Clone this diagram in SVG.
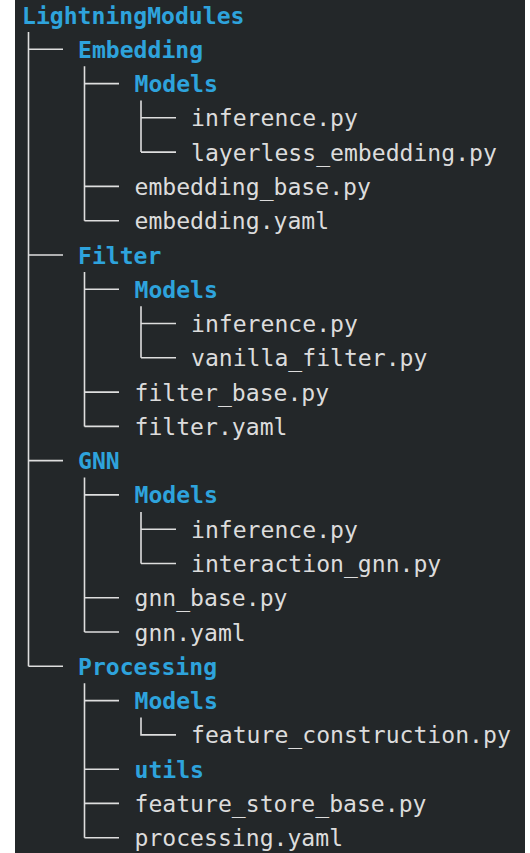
<svg xmlns="http://www.w3.org/2000/svg" width="530" height="853" viewBox="0 0 530 853">
<style>
.t{font-family:"DejaVu Sans Mono","Liberation Mono",monospace;font-size:23.1px;fill:#dcdcdc}
.d{font-weight:bold;fill:#2ea3dc}
.c{fill:none;stroke:#dedede;stroke-width:1.6}
</style>
<rect x="0" y="0" width="530" height="853" fill="#ffffff"/>
<rect x="15" y="0" width="510" height="853" fill="#232729"/>
<g id="connectors">
<path class="c" d="M28.5 32V666.3M28.5 49.3H63M28.5 255H63M28.5 460.6H63M28.5 666.3H63"/>
<path class="c" d="M84.5 66.3V220.7M84.5 83.6H119M84.5 186.4H119M84.5 220.7H119"/>
<path class="c" d="M141 100.6V152.1M141 117.8H176M141 152.1H176"/>
<path class="c" d="M84.5 272V426.4M84.5 289.2H119M84.5 392.1H119M84.5 426.4H119"/>
<path class="c" d="M141 306.2V357.8M141 323.5H176M141 357.8H176"/>
<path class="c" d="M84.5 477.6V632M84.5 494.9H119M84.5 597.8H119M84.5 632H119"/>
<path class="c" d="M141 511.9V563.5M141 529.2H176M141 563.5H176"/>
<path class="c" d="M84.5 683.3V837.7M84.5 700.6H119M84.5 769.2H119M84.5 803.4H119M84.5 837.7H119"/>
<path class="c" d="M141 717.6V734.9H176"/>
</g>
<g id="n-root"><text class="t d" x="22" y="23.5">LightningModules</text></g>
<g id="n-embedding"><text class="t d" x="78" y="57.8">Embedding</text></g>
<g id="n-emb-models"><text class="t d" x="134.5" y="92.1">Models</text></g>
<g id="n-emb-inference"><text class="t" x="191" y="126.3">inference.py</text></g>
<g id="n-emb-layerless"><text class="t" x="191" y="160.6">layerless_embedding.py</text></g>
<g id="n-emb-base"><text class="t" x="134.5" y="194.9">embedding_base.py</text></g>
<g id="n-emb-yaml"><text class="t" x="134.5" y="229.2">embedding.yaml</text></g>
<g id="n-filter"><text class="t d" x="78" y="263.5">Filter</text></g>
<g id="n-fil-models"><text class="t d" x="134.5" y="297.7">Models</text></g>
<g id="n-fil-inference"><text class="t" x="191" y="332">inference.py</text></g>
<g id="n-fil-vanilla"><text class="t" x="191" y="366.3">vanilla_filter.py</text></g>
<g id="n-fil-base"><text class="t" x="134.5" y="400.6">filter_base.py</text></g>
<g id="n-fil-yaml"><text class="t" x="134.5" y="434.9">filter.yaml</text></g>
<g id="n-gnn"><text class="t d" x="78" y="469.1">GNN</text></g>
<g id="n-gnn-models"><text class="t d" x="134.5" y="503.4">Models</text></g>
<g id="n-gnn-inference"><text class="t" x="191" y="537.7">inference.py</text></g>
<g id="n-gnn-interaction"><text class="t" x="191" y="572">interaction_gnn.py</text></g>
<g id="n-gnn-base"><text class="t" x="134.5" y="606.3">gnn_base.py</text></g>
<g id="n-gnn-yaml"><text class="t" x="134.5" y="640.5">gnn.yaml</text></g>
<g id="n-processing"><text class="t d" x="78" y="674.8">Processing</text></g>
<g id="n-pro-models"><text class="t d" x="134.5" y="709.1">Models</text></g>
<g id="n-pro-feature"><text class="t" x="191" y="743.4">feature_construction.py</text></g>
<g id="n-pro-utils"><text class="t d" x="134.5" y="777.7">utils</text></g>
<g id="n-pro-store"><text class="t" x="134.5" y="811.9">feature_store_base.py</text></g>
<g id="n-pro-yaml"><text class="t" x="134.5" y="846.2">processing.yaml</text></g>
</svg>
